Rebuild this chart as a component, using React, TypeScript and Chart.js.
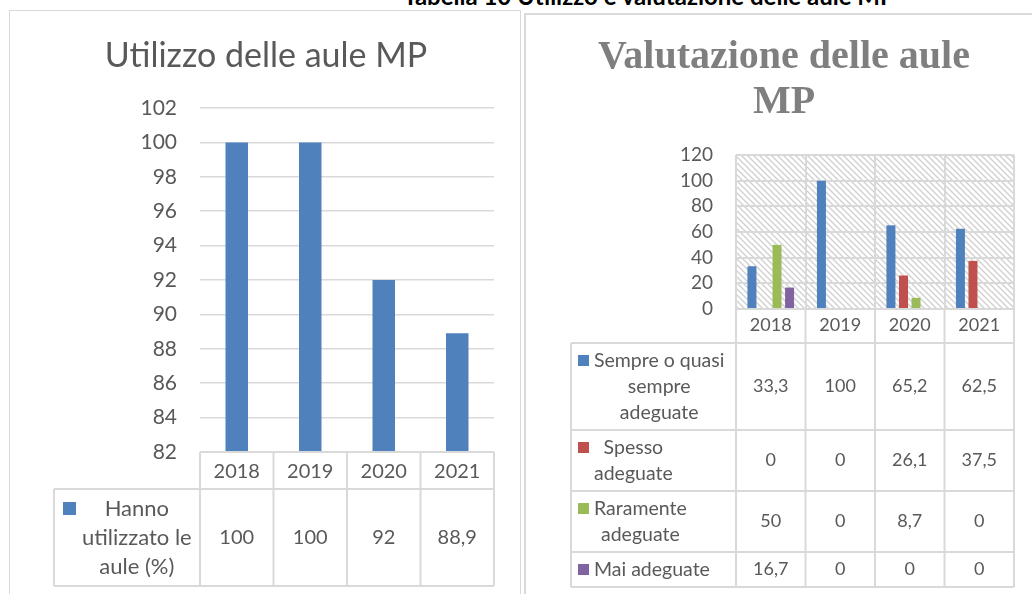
import React, { useEffect, useRef } from "react";
import { Chart, registerables } from "chart.js";

Chart.register(...registerables);

// ---------- data ----------
const YEARS = ["2018", "2019", "2020", "2021"];

const USAGE_NAME = "Hanno\nutilizzato le\naule (%)";
const USAGE_VALUES = [100, 100, 92, 88.9];
const USAGE_TICKS = { min: 82, max: 102, step: 2 };

const SEMPRE_NAME = "Sempre o quasi\nsempre\nadeguate";
const SEMPRE_VALUES = [33.3, 100, 65.2, 62.5];
const SPESSO_NAME = "Spesso\nadeguate";
const SPESSO_VALUES = [0, 0, 26.1, 37.5];
const RARAMENTE_NAME = "Raramente\nadeguate";
const RARAMENTE_VALUES = [50, 0, 8.7, 0];
const MAI_NAME = "Mai adeguate";
const MAI_VALUES = [16.7, 0, 0, 0];
const RATING_TICKS = { min: 0, max: 120, step: 20 };

const HEADER = "Tabella 10 Utilizzo e valutazione delle aule MP";
const LEFT_TITLE = ["Utilizzo delle aule MP"];
const RIGHT_TITLE = ["Valutazione delle aule", "MP"];

// ---------- styles ----------
const BLUE = "#4F81BD";
const RED = "#C0504D";
const GREEN = "#9BBB59";
const PURPLE = "#8064A2";
const TEXT = "#595959";
const LINE = "#D9D9D9";
const FONT = "Lato, 'Open Sans', sans-serif";

const fmt = (v: number) => String(v).replace(".", ",");

// draws title + data table under the category axis
const tablePlugin = {
  id: "dataTable",
  afterDraw(chart: any, _args: any, opts: any) {
    const { ctx } = chart;
    const xs = chart.scales.x;
    const n = chart.data.labels.length;
    const colW = (xs.right - xs.left) / n;
    const edges: number[] = [];
    for (let i = 0; i <= n; i++) edges.push(xs.left + i * colW);
    const axTop = xs.top;
    const axBottom = xs.bottom;
    ctx.save();
    ctx.strokeStyle = LINE;
    ctx.lineWidth = opts.lineWidth;
    // category row
    ctx.beginPath();
    ctx.moveTo(xs.left, axTop);
    ctx.lineTo(xs.right, axTop);
    for (const e of edges) {
      ctx.moveTo(e, axTop);
      ctx.lineTo(e, axBottom);
    }
    ctx.stroke();

    // body rows
    const datasets = chart.data.datasets;
    let y = axBottom;
    ctx.textBaseline = "middle";
    const rows: any[] = [];
    for (const ds of datasets) {
      const lines = String(ds.label).split("\n");
      const h = lines.length * opts.lineHeight + opts.rowPad;
      rows.push({ ds, lines, top: y, h });
      y += h;
    }
    const bottom = y;
    ctx.beginPath();
    ctx.moveTo(opts.left, axBottom);
    ctx.lineTo(xs.right, axBottom);
    for (const r of rows) {
      ctx.moveTo(opts.left, r.top + r.h);
      ctx.lineTo(xs.right, r.top + r.h);
    }
    ctx.moveTo(opts.left, axBottom);
    ctx.lineTo(opts.left, bottom);
    for (const e of edges) {
      ctx.moveTo(e, axBottom);
      ctx.lineTo(e, bottom);
    }
    ctx.stroke();

    for (const r of rows) {
      const cy = r.top + r.h / 2;
      const nL = r.lines.length;
      const firstY = cy - ((nL - 1) / 2) * opts.lineHeight;
      // legend key
      ctx.fillStyle = r.ds.backgroundColor;
      ctx.fillRect(opts.left + opts.keyOffset, firstY - opts.keySize / 2, opts.keySize, opts.keySize);
      // label lines centered in block
      ctx.fillStyle = TEXT;
      ctx.font = `${opts.labelFontSize}px ${FONT}`;
      const blockLeft = opts.left + opts.keyOffset + opts.keySize + opts.keyGap;
      let bw = 0;
      for (const l of r.lines) bw = Math.max(bw, ctx.measureText(l).width);
      ctx.textAlign = "center";
      r.lines.forEach((l: string, i: number) => {
        ctx.fillText(l, blockLeft + bw / 2, firstY + i * opts.lineHeight);
      });
      // values
      ctx.font = `${opts.fontSize}px ${FONT}`;
      r.ds.data.forEach((v: number, i: number) => {
        ctx.fillText(fmt(v), edges[i] + colW / 2, cy);
      });
    }

    // title
    ctx.font = opts.titleFont;
    ctx.fillStyle = opts.titleColor;
    ctx.textAlign = "center";
    ctx.textBaseline = "alphabetic";
    opts.title.forEach((t: string, i: number) => {
      ctx.fillText(t, opts.titleX, opts.titleY + i * opts.titleLineHeight);
    });
    ctx.restore();
  },
};

const hatchPlugin = {
  id: "hatch",
  beforeDraw(chart: any, _args: any, opts: any) {
    if (!opts || !opts.enabled) return;
    const { ctx, chartArea: a } = chart;
    const c = document.createElement("canvas");
    c.width = 6;
    c.height = 6;
    const g = c.getContext("2d")!;
    g.strokeStyle = "#CFCFCF";
    g.lineWidth = 1.3;
    g.beginPath();
    g.moveTo(-1, -1);
    g.lineTo(7, 7);
    g.moveTo(-1, 5);
    g.lineTo(1, 7);
    g.moveTo(5, -1);
    g.lineTo(7, 1);
    g.stroke();
    const p = ctx.createPattern(c, "repeat");
    ctx.save();
    ctx.fillStyle = p;
    ctx.fillRect(a.left, a.top, a.right - a.left, a.bottom - a.top);
    ctx.restore();
  },
};

function useChart(ref: React.RefObject<HTMLCanvasElement>, makeConfig: () => any) {
  useEffect(() => {
    if (!ref.current) return;
    const chart = new Chart(ref.current, makeConfig());
    return () => chart.destroy();
  }, []);
}

function leftConfig() {
  return {
    type: "bar",
    data: {
      labels: YEARS,
      datasets: [
        {
          label: USAGE_NAME,
          data: USAGE_VALUES,
          backgroundColor: BLUE,
          barPercentage: 0.306,
          categoryPercentage: 1,
        },
      ],
    },
    plugins: [tablePlugin],
    options: {
      animation: false,
      responsive: false,
      maintainAspectRatio: false,
      layout: { padding: { top: 108, right: 26, bottom: 105, left: 0 } },
      plugins: {
        legend: { display: false },
        tooltip: { enabled: false },
        title: { display: false },
        dataTable: {
          left: 54,
          lineWidth: 2,
          fontSize: 20,
          labelFontSize: 22,
          lineHeight: 29,
          rowPad: 10,
          keyOffset: 9,
          keySize: 13,
          keyGap: 6,
          title: LEFT_TITLE,
          titleFont: `34px ${FONT}`,
          titleColor: TEXT,
          titleX: 266,
          titleY: 67,
          titleLineHeight: 45,
        },
      },
      scales: {
        x: {
          grid: { display: false, drawTicks: false },
          border: { display: false },
          ticks: { color: TEXT, font: { family: FONT, size: 20 }, padding: 8 },
          afterFit: (s: any) => {
            s.height = 37;
          },
        },
        y: {
          min: USAGE_TICKS.min,
          max: USAGE_TICKS.max,
          ticks: {
            stepSize: USAGE_TICKS.step,
            autoSkip: false,
            color: TEXT,
            font: { family: FONT, size: 21 },
            padding: 23,
          },
          grid: { color: LINE, lineWidth: 1.5, drawTicks: false },
          border: { display: false },
          afterFit: (s: any) => {
            s.width = 200;
          },
        },
      },
    },
  };
}

function rightConfig() {
  const mk = (label: string, data: number[], color: string) => ({
    label,
    data,
    backgroundColor: color,
    barPercentage: 0.717,
    categoryPercentage: 0.722,
  });
  return {
    type: "bar",
    data: {
      labels: YEARS,
      datasets: [
        mk(SEMPRE_NAME, SEMPRE_VALUES, BLUE),
        mk(SPESSO_NAME, SPESSO_VALUES, RED),
        mk(RARAMENTE_NAME, RARAMENTE_VALUES, GREEN),
        mk(MAI_NAME, MAI_VALUES, PURPLE),
      ],
    },
    plugins: [hatchPlugin, tablePlugin],
    options: {
      animation: false,
      responsive: false,
      maintainAspectRatio: false,
      layout: { padding: { top: 155, right: 18, bottom: 251, left: 0 } },
      plugins: {
        legend: { display: false },
        tooltip: { enabled: false },
        title: { display: false },
        hatch: { enabled: true },
        dataTable: {
          left: 51,
          lineWidth: 2,
          fontSize: 18,
          labelFontSize: 19.5,
          lineHeight: 26,
          rowPad: 9,
          keyOffset: 7,
          keySize: 11,
          keyGap: 5,
          title: RIGHT_TITLE,
          titleFont: `bold 40px 'Liberation Serif', serif`,
          titleColor: "#7F7F7F",
          titleX: 264,
          titleY: 68,
          titleLineHeight: 45,
        },
      },
      scales: {
        x: {
          grid: { display: true, color: LINE, lineWidth: 2, drawTicks: false, offset: true },
          border: { display: false },
          ticks: { color: TEXT, font: { family: FONT, size: 18 }, padding: 5 },
          afterFit: (s: any) => {
            s.height = 34;
          },
        },
        y: {
          min: RATING_TICKS.min,
          max: RATING_TICKS.max,
          ticks: {
            stepSize: RATING_TICKS.step,
            autoSkip: false,
            color: TEXT,
            font: { family: FONT, size: 19 },
            padding: 23,
          },
          grid: { color: LINE, lineWidth: 2, drawTicks: false },
          border: { display: false },
          afterFit: (s: any) => {
            s.width = 216;
          },
        },
      },
    },
  };
}

export default function App() {
  const leftRef = useRef<HTMLCanvasElement>(null);
  const rightRef = useRef<HTMLCanvasElement>(null);
  useChart(leftRef, leftConfig);
  useChart(rightRef, rightConfig);
  return (
    <div
      style={{
        position: "absolute",
        left: 0,
        top: 0,
        width: 1032,
        height: 594,
        overflow: "hidden",
        background: "#fff",
      }}
    >
      <div
        style={{
          position: "absolute",
          left: 0,
          width: 1298,
          top: -16,
          textAlign: "center",
          font: `bold 24px ${FONT}`,
          lineHeight: "24px",
          color: "#000",
          whiteSpace: "nowrap",
        }}
      >
        {HEADER}
      </div>
      <div
        style={{
          position: "absolute",
          left: 9,
          top: 10,
          width: 512,
          height: 620,
          border: `1.5px solid ${LINE}`,
          boxSizing: "border-box",
        }}
      />
      <div
        style={{
          position: "absolute",
          left: 524,
          top: 13,
          width: 540,
          height: 620,
          border: `2px solid ${LINE}`,
          boxSizing: "border-box",
        }}
      />
      <canvas
        ref={leftRef}
        width={520}
        height={594}
        style={{ position: "absolute", left: 0, top: 0, width: 520, height: 594 }}
      />
      <canvas
        ref={rightRef}
        width={512}
        height={594}
        style={{ position: "absolute", left: 520, top: 0, width: 512, height: 594 }}
      />
    </div>
  );
}
